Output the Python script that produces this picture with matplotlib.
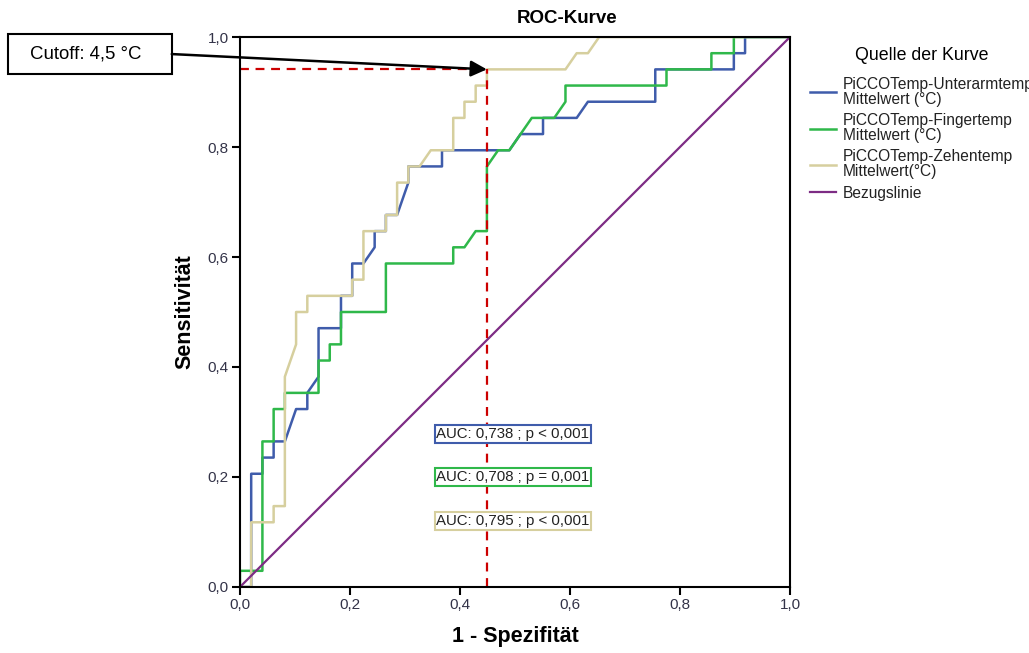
import matplotlib
matplotlib.use('Agg')
import matplotlib.pyplot as plt
from matplotlib.patches import Rectangle
import numpy as np

plt.rcParams['font.family'] = ['Liberation Sans', 'DejaVu Sans']

# ROC steps: k = false positives (of 49), j = true positives (of 34)
n_neg = 49
n_pos = 34

unterarm_k = [0, 1, 1, 2, 2, 3, 3, 4, 5, 6, 6, 7, 7, 9, 9, 10, 10, 11, 12, 12, 13, 13, 14, 15, 15, 18, 18,
              24, 25, 27, 27, 30, 31, 37, 37, 44, 44, 45, 45, 49]
unterarm_j = [0, 0, 7, 7, 8, 8, 9, 9, 11, 11, 12, 13, 16, 16, 18, 18, 20, 20, 21, 22, 22, 23, 23, 25, 26, 26, 27,
              27, 28, 28, 29, 29, 30, 30, 32, 32, 33, 33, 34, 34]

finger_k = [0, 0, 2, 2, 3, 3, 4, 4, 7, 7, 8, 8, 9, 9, 13, 13, 19, 19, 20, 21, 22, 22, 23, 24, 26, 28, 29, 29,
            38, 38, 42, 42, 44, 44, 49]
finger_j = [0, 1, 1, 9, 9, 11, 11, 12, 12, 14, 14, 15, 15, 17, 17, 20, 20, 21, 21, 22, 22, 26, 27, 27, 29, 29, 30, 31,
            31, 32, 32, 33, 33, 34, 34]

zehen_k = [0, 1, 1, 3, 3, 4, 4, 5, 5, 6, 6, 10, 10, 11, 11, 13, 13, 14, 14, 15, 15, 16, 17, 19, 19, 20, 20,
           21, 21, 22, 22, 29, 30, 31, 32, 49]
zehen_j = [0, 0, 4, 4, 5, 5, 13, 15, 17, 17, 18, 18, 19, 19, 22, 22, 23, 23, 25, 25, 26, 26, 27, 27, 29, 29, 30,
           30, 31, 31, 32, 32, 33, 33, 34, 34]

cutoff_k = 22
cutoff_j = 32

labels = ['PiCCOTemp-Unterarmtemp\nMittelwert (°C)',
          'PiCCOTemp-Fingertemp\nMittelwert (°C)',
          'PiCCOTemp-Zehentemp\nMittelwert(°C)',
          'Bezugslinie']
auc_texts = ['AUC: 0,738 ; p < 0,001', 'AUC: 0,708 ; p = 0,001', 'AUC: 0,795 ; p < 0,001']
colors = ['#3f5cab', '#2fb84a', '#d6cf9e', '#7d2c84']
tick_vals = [0.0, 0.2, 0.4, 0.6, 0.8, 1.0]
tick_labels = ['0,0', '0,2', '0,4', '0,6', '0,8', '1,0']

fig = plt.figure(figsize=(10.29, 6.53), dpi=100)
ax = fig.add_axes([0.2332, 0.1011, 0.5345, 0.8422])

curves = [(unterarm_k, unterarm_j), (finger_k, finger_j), (zehen_k, zehen_j)]
handles = []
for (k, j), c, lab in zip(curves, colors[:3], labels[:3]):
	h, = ax.plot(np.array(k) / n_neg, np.array(j) / n_pos, color=c, lw=1.8, label=lab)
	handles.append(h)
h, = ax.plot([0, 1], [0, 1], color=colors[3], lw=1.6, label=labels[3])
handles.append(h)

xc = cutoff_k / n_neg
yc = cutoff_j / n_pos
ax.plot([0, xc], [yc, yc], color='#cc0000', lw=1.6, dashes=(4, 3))
ax.plot([xc, xc], [0, yc], color='#cc0000', lw=1.6, dashes=(4, 3))

ax.set_xlim(0, 1)
ax.set_ylim(0, 1)
ax.set_xticks(tick_vals)
ax.set_xticklabels(tick_labels)
ax.set_yticks(tick_vals)
ax.set_yticklabels(tick_labels)
ax.tick_params(direction='out', length=6, width=1.5, labelsize=11, labelcolor='#333348', pad=2)
for s in ax.spines.values():
	s.set_linewidth(1.5)
	s.set_color('black')

fig.text(0.551, 0.972, 'ROC-Kurve', fontsize=13.5, fontweight='bold', ha='center', va='center')
ax.set_xlabel('1 - Spezifität', fontsize=15.5, fontweight='bold', labelpad=10)
ax.set_ylabel('Sensitivität', fontsize=15.5, fontweight='bold', labelpad=9)

# AUC boxes
auc_y = [0.278, 0.2, 0.12]
for t, c, y in zip(auc_texts, colors[:3], auc_y):
	ax.text(0.357, y, t, fontsize=10.8, color='#222222', va='center', ha='left',
		bbox=dict(boxstyle='square,pad=0.12', fc='white', ec=c, lw=1.5))

# cutoff box and arrow
box = Rectangle((-0.422, 0.933), 0.298, 0.072, transform=ax.transData, fill=False,
	ec='black', lw=1.5, clip_on=False)
ax.add_patch(box)
ax.text(-0.281, 0.969, 'Cutoff: 4,5 °C', fontsize=13.4, ha='center', va='center', clip_on=False)
ax.annotate('', xy=(xc, yc), xytext=(-0.124, 0.969), annotation_clip=False,
	arrowprops=dict(arrowstyle='-|>', color='black', lw=1.8, mutation_scale=24, shrinkA=0, shrinkB=0))

leg = fig.legend(handles=handles, labels=labels, loc='upper left', bbox_to_anchor=(0.781, 0.937),
	frameon=False, fontsize=11.2, title='Quelle der Kurve', title_fontsize=12.8,
	handlelength=1.7, handletextpad=0.4, labelspacing=0.4, borderaxespad=0)
leg._legend_box.sep = 9
for t in leg.get_texts():
	t.set_linespacing(1.0)
	t.set_color('#222222')

fig.savefig('out.png', dpi=100)
